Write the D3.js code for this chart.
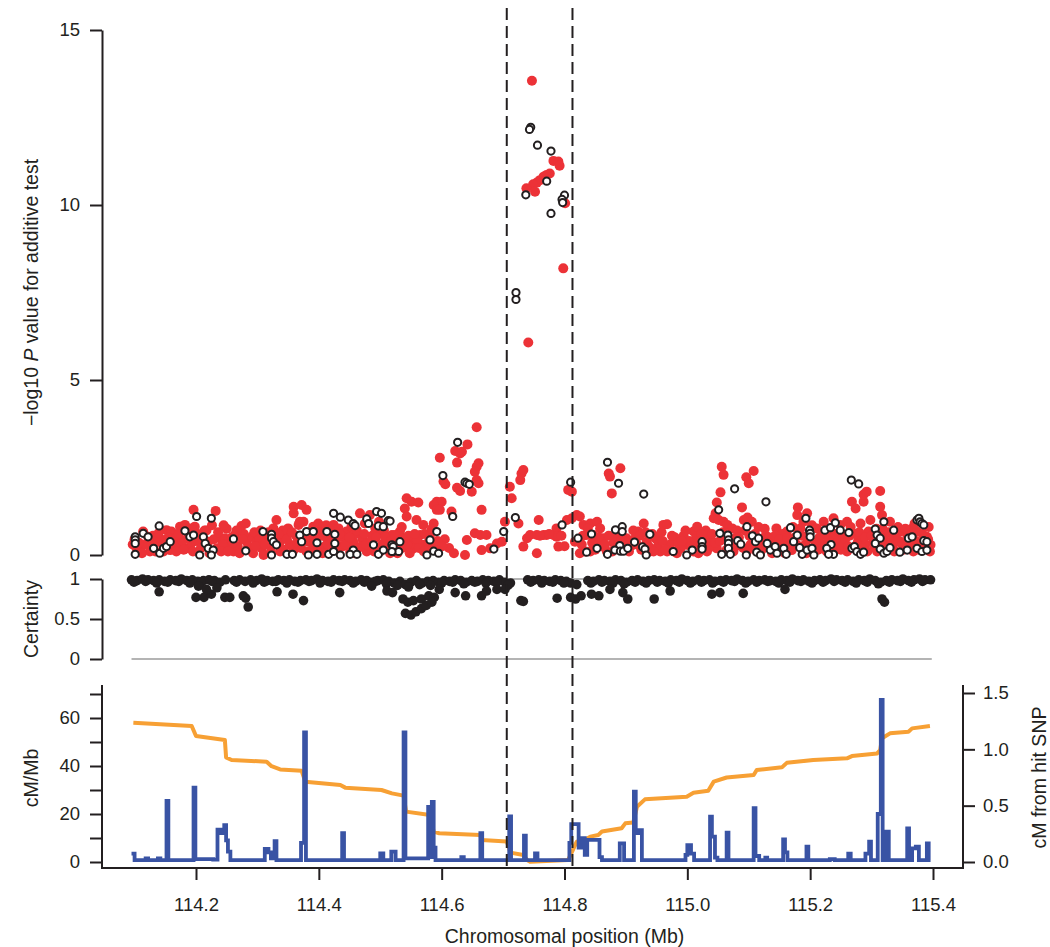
<!DOCTYPE html>
<html>
<head>
<meta charset="utf-8">
<script src="https://cdn.jsdelivr.net/npm/d3@7"></script>
<style>
  body { margin: 0; background: #fff; }
  svg { display: block; font-family: "Liberation Sans", Arial, sans-serif; }
  .axis text { font-size: 18.5px; fill: #231f20; }
  .axis line, .axis path { stroke: #231f20; stroke-width: 2; }
</style>
</head>
<body>
<svg id="chart" width="1050" height="947"></svg>
<script>
// association test, -log10 P; red = filled points, open = black rings
const redSnps = [
  [114.114,0.67],[114.122,0.52],[114.136,0.38],[114.152,0.71],[114.160,0.67],[114.166,0.48],[114.174,0.81],[114.182,0.86],
  [114.190,0.76],[114.198,0.81],[114.196,1.29],[114.206,0.52],[114.212,0.29],[114.220,0.38],[114.232,1.26],[114.234,0.19],
  [114.239,0.48],[114.247,0.48],[114.255,0.29],[114.263,0.57],[114.274,0.83],[114.283,0.38],[114.291,0.52],[114.299,0.38],
  [114.307,0.19],[114.315,0.48],[114.326,0.76],[114.331,1.0],[114.331,0.57],[114.337,0.38],[114.345,0.52],[114.350,0.76],
  [114.359,1.38],[114.359,1.19],[114.372,1.43],[114.380,1.29],[114.367,0.86],[114.375,0.95],[114.383,0.38],[114.391,0.81],
  [114.399,0.90],[114.407,0.81],[114.413,0.48],[114.424,0.86],[114.432,0.76],[114.437,0.24],[114.445,0.67],[114.456,0.38],
  [114.467,1.19],[114.475,0.90],[114.483,1.14],[114.492,0.76],[114.502,0.62],[114.510,0.38],[114.519,0.57],[114.521,0.24],
  [114.185,0.19],[114.158,0.14],[114.147,0.10],[114.125,0.10],[114.109,0.14],[114.261,0.10],[114.310,0.0],[114.337,0.10],
  [114.359,0.14],[114.380,0.10],[114.402,0.19],[114.424,0.14],[114.451,0.10],[114.478,0.10],[114.500,0.10],[114.516,0.05],
  [114.097,0.30],[114.103,0.20],[114.118,0.30],[114.130,0.55],[114.143,0.45],[114.170,0.25],[114.178,0.40],[114.193,0.35],
  [114.203,0.60],[114.217,0.70],[114.226,0.85],[114.243,0.30],[114.250,0.75],[114.258,0.50],[114.268,0.25],[114.278,0.60],
  [114.287,0.15],[114.295,0.65],[114.303,0.45],[114.320,0.30],[114.341,0.70],[114.353,0.30],[114.363,0.55],[114.371,0.20],
  [114.386,0.65],[114.395,0.30],[114.404,0.55],[114.410,0.25],[114.418,0.70],[114.428,0.40],[114.440,0.50],[114.448,0.25],
  [114.453,0.80],[114.460,0.60],[114.464,0.20],[114.471,0.45],[114.480,0.30],[114.487,0.55],[114.495,0.20],[114.498,0.95],
  [114.506,0.70],[114.513,0.25],
  [114.100,0.45],[114.107,0.35],[114.112,0.05],[114.127,0.30],[114.134,0.10],[114.139,0.62],[114.146,0.30],[114.155,0.50],
  [114.163,0.30],[114.168,0.10],[114.172,0.60],[114.180,0.15],[114.187,0.50],[114.195,0.10],[114.200,0.40],[114.208,0.20],
  [114.214,0.70],[114.222,0.05],[114.229,0.45],[114.236,0.65],[114.241,0.10],[114.245,0.85],[114.252,0.10],[114.260,0.35],
  [114.266,0.70],[114.271,0.05],[114.276,0.45],[114.281,0.90],[114.285,0.25],[114.293,0.05],[114.297,0.25],[114.305,0.70],
  [114.312,0.30],[114.318,0.65],[114.322,0.10],[114.329,0.35],[114.335,0.60],[114.343,0.15],[114.348,0.45],[114.356,0.65],
  [114.365,0.35],[114.369,0.95],[114.378,0.55],[114.389,0.15],[114.393,0.50],[114.400,0.65],[114.406,0.05],[114.412,0.85],
  [114.415,0.30],[114.421,0.55],[114.430,0.20],[114.434,0.60],[114.443,0.30],[114.450,0.50],[114.458,0.05],[114.462,0.70],
  [114.469,0.25],[114.474,0.60],[114.477,0.30],[114.485,0.40],[114.490,0.10],[114.493,0.50],[114.503,0.30],[114.508,0.50],
  [114.517,0.40],
  [114.657,3.65],[114.642,3.16],[114.622,2.97],[114.630,2.90],[114.633,2.95],[114.597,2.78],[114.625,2.64],[114.660,2.62],
  [114.657,2.52],[114.654,2.38],[114.603,2.10],[114.606,2.02],[114.657,2.14],[114.660,2.05],[114.625,1.92],[114.630,1.83],
  [114.649,1.81],[114.543,1.62],[114.551,1.52],[114.562,1.50],[114.592,1.52],[114.600,1.52],[114.587,1.43],[114.592,1.29],
  [114.597,1.29],[114.540,1.33],[114.543,1.10],[114.559,1.0],[114.570,0.86],[114.587,0.90],[114.616,1.24],[114.665,1.29],
  [114.532,0.67],[114.524,0.57],[114.538,0.48],[114.549,0.38],[114.557,0.33],[114.565,0.57],[114.568,0.29],[114.576,0.24],
  [114.554,0.19],[114.532,0.24],[114.587,0.24],[114.581,0.57],[114.638,0.0],[114.641,0.43],[114.654,0.62],[114.663,0.57],
  [114.673,0.57],[114.665,0.14],[114.679,0.19],[114.690,0.33],[114.698,0.38],[114.703,0.95],[114.711,1.95],[114.714,1.62],
  [114.728,2.14],[114.730,2.33],[114.733,2.43],[114.725,0.90],[114.758,1.0],[114.739,0.48],[114.744,0.57],[114.755,0.57],
  [114.766,0.57],[114.771,0.57],[114.782,0.57],[114.787,0.76],[114.790,0.24],[114.755,0.05],[114.733,0.24],[114.787,0.52],
  [114.806,1.86],[114.812,1.81],[114.804,1.0],[114.812,1.05],[114.820,1.14],[114.825,1.10],[114.831,0.86],[114.842,0.90],
  [114.853,0.95],[114.836,0.57],[114.847,0.57],[114.858,0.76],[114.863,0.48],[114.853,0.29],[114.842,0.10],[114.825,0.05],
  [114.817,0.38],[114.869,0.10],[114.872,2.33],[114.874,2.24],[114.877,1.76],[114.891,2.48],[114.929,0.90],[114.920,0.67],
  [114.915,0.48],[114.934,0.38],[114.948,0.48],[114.956,0.10],[114.961,0.86],[114.939,0.10],[114.896,0.19],[114.901,0.48],
  [114.527,0.35],[114.535,0.80],[114.546,0.55],[114.560,0.45],[114.573,0.60],[114.578,0.35],[114.584,0.75],[114.590,0.15],
  [114.605,0.45],[114.612,0.20],[114.620,0.05],[114.760,0.55],[114.775,0.60],[114.795,0.55],[114.800,0.25],[114.828,0.30],
  [114.838,0.75],[114.850,0.15],[114.860,0.25],[114.880,0.35],[114.885,0.55],[114.898,0.40],[114.908,0.25],[114.912,0.70],
  [114.925,0.15],[114.943,0.60],[114.952,0.25],
  [114.520,0.15],[114.528,0.05],[114.536,0.20],[114.544,0.30],[114.548,0.05],[114.556,0.60],[114.563,0.20],[114.571,0.10],
  [114.580,0.20],[114.593,0.40],[114.601,0.25],[114.830,0.55],[114.834,0.10],[114.845,0.35],[114.856,0.50],[114.866,0.30],
  [114.872,0.55],[114.878,0.10],[114.887,0.20],[114.893,0.45],[114.905,0.10],[114.918,0.30],[114.923,0.55],[114.932,0.65],
  [114.937,0.25],[114.945,0.10],[114.950,0.45],[114.958,0.65],
  [114.967,0.88],[114.980,0.50],[115.056,2.52],[115.059,2.29],[115.054,1.79],[115.048,1.50],[115.046,1.19],[115.043,1.05],
  [115.051,1.0],[115.059,0.95],[115.065,0.86],[115.073,0.76],[115.089,1.36],[115.092,1.0],[115.098,1.07],[115.105,0.95],
  [115.096,2.22],[115.100,2.05],[115.108,2.40],[115.145,0.76],[115.180,1.36],[115.179,1.14],[115.195,1.19],[115.189,0.95],
  [115.184,0.76],[115.162,0.67],[115.157,0.38],[115.135,0.29],[115.119,0.38],[115.124,0.48],[115.113,0.10],[115.010,0.67],
  [115.016,0.81],[115.027,0.57],[115.037,0.38],[114.999,0.29],[114.989,0.19],[114.978,0.10],[114.967,0.10],[115.032,0.10],
  [115.238,1.05],[115.249,0.86],[115.260,0.95],[115.268,1.52],[115.274,1.33],[115.282,0.90],[115.287,1.52],[115.287,1.73],
  [115.292,1.81],[115.314,1.83],[115.314,1.38],[115.317,1.14],[115.211,0.76],[115.222,0.95],[115.227,0.57],[115.238,0.38],
  [115.255,0.29],[115.271,0.19],[115.295,0.67],[115.303,0.38],[115.314,0.57],[115.330,0.95],[115.339,0.57],[115.347,0.38],
  [115.358,0.57],[115.366,0.76],[115.374,0.67],[115.385,0.38],[115.390,0.52],[115.396,0.29],[115.325,0.19],[115.309,0.10],
  [115.282,0.10],[115.260,0.10],[115.227,0.10],[115.206,0.10],[115.189,0.10],[115.170,0.14],[115.151,0.19],[115.097,0.10],
  [115.086,0.29],[115.078,0.48],[115.070,0.19],[115.010,0.10],[115.048,0.19],
  [114.972,0.30],[114.985,0.35],[114.994,0.55],[115.003,0.40],[115.020,0.25],[115.030,0.70],[115.040,0.60],[115.062,0.50],
  [115.068,0.30],[115.081,0.70],[115.103,0.30],[115.110,0.60],[115.116,0.80],[115.128,0.55],[115.140,0.40],[115.148,0.15],
  [115.155,0.60],[115.166,0.35],[115.175,0.50],[115.192,0.30],[115.198,0.60],[115.203,0.85],[115.215,0.50],[115.219,0.30],
  [115.232,0.75],[115.244,0.50],[115.250,0.15],[115.264,0.55],[115.278,0.40],[115.290,0.30],[115.298,1.00],[115.308,0.75],
  [115.320,0.45],[115.335,0.20],[115.343,0.80],[115.352,0.15],[115.362,0.35],[115.370,0.90],[115.380,0.20],[115.393,0.80],
  [114.960,0.40],[114.964,0.15],[114.975,0.55],[114.983,0.05],[114.991,0.40],[114.997,0.70],[115.006,0.25],[115.013,0.45],
  [115.018,0.05],[115.023,0.60],[115.035,0.20],[115.045,0.35],[115.053,0.40],[115.058,0.65],[115.064,0.15],[115.075,0.10],
  [115.079,0.25],[115.084,0.50],[115.091,0.20],[115.094,0.70],[115.101,0.55],[115.107,0.20],[115.114,0.35],[115.121,0.15],
  [115.126,0.75],[115.133,0.50],[115.138,0.05],[115.143,0.55],[115.150,0.45],[115.159,0.05],[115.163,0.50],[115.168,0.20],
  [115.172,0.80],[115.178,0.30],[115.186,0.55],[115.194,0.05],[115.197,0.45],[115.209,0.35],[115.213,0.15],[115.221,0.65],
  [115.225,0.30],[115.230,0.45],[115.236,0.20],[115.241,0.60],[115.246,0.30],[115.252,0.60],[115.257,0.45],[115.262,0.25],
  [115.266,0.80],[115.273,0.60],[115.276,0.30],[115.280,0.65],[115.285,0.20],[115.289,0.50],[115.293,0.10],[115.300,0.55],
  [115.305,0.20],[115.311,0.30],[115.318,0.75],[115.323,0.30],[115.328,0.65],[115.332,0.40],[115.337,0.10],[115.341,0.40],
  [115.345,0.65],[115.350,0.30],[115.355,0.75],[115.360,0.20],[115.364,0.55],[115.368,0.10],[115.372,0.40],[115.377,0.15],
  [115.383,0.60],[115.388,0.20],[115.392,0.45],[115.395,0.10],
  [114.747,13.55],[114.782,11.26],[114.790,11.24],[114.792,11.12],[114.776,10.90],[114.771,10.86],[114.766,10.81],
  [114.760,10.71],[114.755,10.64],[114.749,10.59],[114.738,10.48],[114.752,10.38],[114.801,10.05],[114.798,8.19],[114.741,6.07]
];

const openSnps = [
  [114.101,0.52],[114.101,0.43],[114.101,0.33],[114.101,0.02],[114.114,0.62],[114.122,0.52],[114.131,0.19],[114.140,0.83],
  [114.141,0.05],[114.147,0.19],[114.152,0.24],[114.158,0.38],[114.182,0.69],[114.190,0.52],[114.196,0.57],[114.201,1.10],
  [114.206,0.0],[114.212,0.52],[114.215,0.33],[114.220,0.19],[114.225,1.05],[114.228,0.14],[114.225,0.0],[114.261,0.46],
  [114.281,0.12],[114.309,0.67],[114.323,0.59],[114.323,0.48],[114.326,0.38],[114.331,0.29],[114.323,0.0],[114.348,0.02],
  [114.357,0.02],[114.369,0.57],[114.372,0.38],[114.380,0.67],[114.391,0.67],[114.397,0.35],[114.383,0.0],[114.397,0.02],
  [114.413,0.67],[114.424,1.19],[114.426,0.59],[114.426,0.33],[114.416,0.02],[114.424,0.10],[114.435,1.08],[114.448,1.0],
  [114.456,0.90],[114.459,0.84],[114.456,0.14],[114.451,0.02],[114.435,0.0],[114.462,0.02],[114.478,1.03],[114.481,0.90],
  [114.494,1.24],[114.502,1.19],[114.497,0.83],[114.505,0.81],[114.513,0.98],[114.489,0.29],[114.497,0.02],[114.505,0.14],
  [114.519,0.29],[114.521,0.10],
  [114.516,0.97],[114.521,0.24],[114.532,0.38],[114.530,0.10],[114.519,0.10],[114.576,0.0],[114.581,0.43],[114.592,0.67],
  [114.587,0.11],[114.595,0.05],[114.602,2.27],[114.626,3.22],[114.618,1.10],[114.638,2.08],[114.641,2.05],[114.645,2.02],
  [114.685,0.17],[114.701,0.67],[114.720,1.07],[114.796,0.86],[114.810,2.08],[114.822,0.48],[114.836,0.08],[114.844,0.60],
  [114.853,0.19],[114.870,2.65],[114.888,2.05],[114.883,0.72],[114.894,0.81],[114.894,0.67],[114.890,0.27],[114.882,0.14],
  [114.891,0.11],[114.896,0.11],[114.903,0.19],[114.914,0.37],[114.929,1.74],[114.927,0.23],[114.931,0.17],[114.933,0.0],
  [114.939,0.59],[114.870,0.02],
  [114.977,0.10],[114.999,0.0],[115.008,0.14],[115.024,0.38],[115.024,0.24],[115.024,0.17],[115.051,1.29],[115.053,0.62],
  [115.056,0.02],[115.066,0.57],[115.067,0.43],[115.067,0.33],[115.067,0.19],[115.070,0.02],[115.077,1.89],[115.082,0.41],
  [115.087,0.31],[115.097,0.81],[115.096,0.0],[115.106,0.55],[115.111,0.38],[115.116,0.48],[115.113,0.08],[115.119,0.0],
  [115.128,1.52],[115.130,0.33],[115.135,0.14],[115.143,0.24],[115.146,0.05],[115.157,0.19],[115.161,0.02],[115.168,0.78],
  [115.173,0.38],[115.179,0.57],[115.183,0.21],[115.187,0.02],[115.193,1.05],[115.199,0.71],[115.200,0.62],[115.200,0.52],
  [115.195,0.14],[115.203,0.19],[115.206,0.0],[115.224,0.71],[115.233,0.78],[115.234,0.30],[115.241,0.92],[115.249,0.71],
  [115.227,0.19],[115.238,0.02],[115.230,0.02],[115.263,0.64],[115.267,2.14],[115.279,2.03],[115.268,0.19],[115.272,0.24],
  [115.276,0.10],[115.282,0.02],[115.287,0.08],[115.306,0.74],[115.309,0.57],[115.314,0.48],[115.306,0.33],[115.314,0.17],
  [115.320,0.05],[115.325,0.10],[115.330,0.21],[115.320,0.95],[115.336,0.71],[115.346,0.08],[115.360,0.48],[115.366,0.52],
  [115.358,0.14],[115.374,1.0],[115.377,1.05],[115.379,0.95],[115.382,0.90],[115.385,0.86],[115.385,0.41],[115.390,0.38],
  [115.374,0.19],[115.382,0.10],[115.390,0.14],
  [114.745,12.22],[114.743,12.16],[114.756,11.71],[114.778,11.54],[114.771,10.68],[114.737,10.29],[114.800,10.28],
  [114.796,10.16],[114.797,10.07],[114.778,9.76],[114.721,7.50],[114.721,7.30]
];

// genotype certainty per SNP
const certainty = [
  [114.095,0.99],[114.104,0.98],[114.113,1.0],[114.122,0.99],[114.131,0.98],[114.140,0.99],[114.149,0.97],[114.158,0.99],
  [114.167,0.98],[114.176,1.0],[114.185,0.98],[114.194,0.99],[114.203,0.97],[114.212,0.98],[114.221,0.99],[114.230,0.98],
  [114.239,0.96],[114.248,0.99],[114.262,0.98],[114.271,0.99],[114.280,0.97],[114.289,0.99],[114.298,0.98],[114.307,1.0],
  [114.316,0.98],[114.325,0.97],[114.334,0.99],[114.343,0.98],[114.352,0.99],[114.361,0.97],[114.370,0.98],[114.379,0.99],
  [114.388,0.98],[114.397,1.0],[114.406,0.98],[114.415,0.97],[114.424,0.99],[114.433,0.98],[114.442,0.99],[114.451,0.98],
  [114.460,0.97],[114.469,0.99],[114.478,0.98],[114.487,0.96],[114.496,0.98],[114.505,0.99],[114.514,0.97],[114.523,0.95],
  [114.532,0.97],[114.541,0.93],[114.550,0.96],[114.559,0.98],[114.568,0.95],[114.577,0.97],[114.586,0.98],[114.595,0.96],
  [114.604,0.98],[114.613,0.97],[114.622,0.99],[114.631,0.98],[114.640,0.96],[114.649,0.98],[114.658,0.97],[114.667,0.99],
  [114.676,0.98],[114.685,0.97],[114.694,0.99],[114.703,0.96],[114.712,0.95],[114.740,0.99],[114.749,0.98],[114.758,0.99],
  [114.767,0.98],[114.776,0.97],[114.785,0.99],[114.794,0.98],[114.803,0.97],[114.810,0.95],[114.820,0.93],[114.838,0.98],
  [114.847,0.97],[114.856,0.99],[114.865,0.98],[114.874,0.97],[114.883,0.99],[114.892,0.98],[114.901,0.96],[114.910,0.98],
  [114.919,0.99],[114.928,0.97],[114.937,0.98],[114.946,0.99],[114.955,0.98],[114.964,0.97],[114.973,0.99],[114.982,0.98],
  [114.991,1.0],[115.000,0.98],[115.009,0.97],[115.018,0.99],[115.027,0.98],[115.036,0.99],[115.045,0.97],[115.054,0.98],
  [115.063,0.99],[115.072,0.98],[115.081,1.0],[115.090,0.98],[115.099,0.97],[115.108,0.99],[115.117,0.98],[115.126,0.99],
  [115.135,0.98],[115.144,0.97],[115.153,0.99],[115.162,0.98],[115.171,1.0],[115.180,0.98],[115.189,0.99],[115.198,0.97],
  [115.207,0.98],[115.216,0.99],[115.225,0.98],[115.234,1.0],[115.243,0.99],[115.252,0.98],[115.261,0.99],[115.270,0.97],
  [115.279,0.99],[115.288,0.98],[115.297,1.0],[115.306,0.98],[115.315,0.96],[115.324,0.98],[115.333,0.99],[115.342,0.98],
  [115.351,1.0],[115.360,0.98],[115.369,0.99],[115.378,1.0],[115.387,0.99],[115.396,0.99],
  [114.099,0.96],[114.118,0.97],[114.136,0.95],[114.154,0.96],[114.172,0.97],[114.190,0.95],[114.208,0.96],[114.226,0.97],
  [114.266,0.96],[114.293,0.95],[114.311,0.96],[114.330,0.97],[114.348,0.95],[114.366,0.96],[114.384,0.97],[114.402,0.95],
  [114.420,0.96],[114.438,0.97],[114.456,0.95],[114.474,0.96],[114.492,0.97],[114.510,0.94],[114.528,0.92],[114.546,0.90],
  [114.564,0.93],[114.582,0.92],[114.600,0.95],[114.618,0.96],[114.636,0.94],[114.654,0.96],[114.672,0.95],[114.690,0.96],
  [114.708,0.92],[114.745,0.96],[114.763,0.95],[114.781,0.96],[114.799,0.95],[114.843,0.95],[114.861,0.96],[114.879,0.95],
  [114.897,0.94],[114.915,0.96],[114.933,0.95],[114.951,0.96],[114.969,0.95],[114.987,0.96],[115.005,0.95],[115.023,0.96],
  [115.041,0.95],[115.059,0.96],[115.077,0.97],[115.095,0.95],[115.113,0.96],[115.131,0.97],[115.149,0.95],[115.167,0.96],
  [115.185,0.97],[115.203,0.95],[115.221,0.96],[115.239,0.97],[115.257,0.96],[115.275,0.95],[115.293,0.96],[115.311,0.94],
  [115.329,0.96],[115.347,0.97],[115.365,0.96],[115.383,0.97],
  [114.140,0.84],[114.200,0.77],[114.213,0.77],[114.225,0.81],[114.247,0.77],[114.255,0.77],[114.281,0.76],[114.285,0.65],
  [114.277,0.79],[114.204,0.91],[114.217,0.87],[114.234,0.89],[114.332,0.84],[114.358,0.81],[114.375,0.73],[114.434,0.83],
  [114.486,0.91],[114.511,0.85],[114.520,0.83],[114.537,0.75],[114.545,0.71],[114.554,0.73],[114.567,0.75],[114.579,0.79],
  [114.588,0.77],[114.541,0.57],[114.550,0.55],[114.558,0.59],[114.567,0.63],[114.575,0.67],[114.584,0.71],[114.596,0.87],
  [114.622,0.83],[114.639,0.79],[114.665,0.79],[114.673,0.85],[114.690,0.87],[114.703,0.87],[114.729,0.73],[114.733,0.72],
  [114.788,0.76],[114.810,0.77],[114.818,0.75],[114.827,0.79],[114.844,0.81],[114.856,0.79],[114.874,0.87],[114.895,0.83],
  [114.903,0.75],[114.946,0.75],[114.972,0.85],[115.040,0.81],[115.053,0.83],[115.091,0.82],[115.159,0.87],[115.317,0.75],
  [115.321,0.71]
];

// recombination rate (cM/Mb), value holds until next position
const recombRate = [
  [114.095,3.5],[114.100,0.8],[114.118,1.5],[114.122,0.8],[114.138,1.5],[114.142,0.8],[114.152,25.5],[114.155,0.8],
  [114.196,31],[114.199,1.2],[114.228,1.0],[114.235,13.5],[114.241,12],[114.246,15.4],[114.249,9],[114.252,4.3],
  [114.256,0.8],[114.312,5.5],[114.318,4],[114.322,1.5],[114.328,8.7],[114.331,0.8],[114.371,8],[114.376,54],
  [114.379,0.8],[114.438,12],[114.441,0.8],[114.500,3.6],[114.505,0.8],[114.518,4.3],[114.525,0.8],[114.538,54],
  [114.541,1.5],[114.578,23],[114.581,2],[114.584,25],[114.587,6],[114.590,0.8],[114.632,2],[114.636,0.8],
  [114.663,12],[114.666,0.8],[114.710,19],[114.713,0.8],[114.734,11],[114.737,0.8],[114.752,3.6],[114.756,0.8],
  [114.808,8],[114.811,15.8],[114.823,6],[114.827,9.9],[114.833,3],[114.837,9.2],[114.857,2],[114.861,0.8],
  [114.890,7.8],[114.897,0.8],[114.913,29.3],[114.916,12],[114.921,13.3],[114.926,0.8],[114.997,3],[115.000,7],
  [115.006,3.5],[115.011,0.8],[115.037,18.9],[115.040,10.6],[115.045,1.8],[115.049,0.8],[115.064,12.2],[115.067,0.8],
  [115.108,22.4],[115.111,2.5],[115.117,0.8],[115.127,1.8],[115.130,0.8],[115.156,9.4],[115.159,4],[115.163,0.8],
  [115.194,6.4],[115.197,0.8],[115.232,1.2],[115.240,0.8],[115.262,3.5],[115.266,0.8],[115.290,3.5],[115.296,8.5],
  [115.299,0.8],[115.310,20],[115.315,67.5],[115.318,0.8],[115.324,12.6],[115.328,0.8],[115.358,14],[115.361,0.8],
  [115.366,5.7],[115.372,6.4],[115.377,0.8],[115.390,7.8],[115.393,0.8],[115.396,0.8]
];

// genetic distance from the hit SNP (cM)
const cmFromHit = [
  [114.098,1.237],[114.193,1.207],[114.200,1.118],[114.247,1.083],[114.249,0.929],[114.258,0.905],[114.315,0.89],
  [114.323,0.85],[114.337,0.822],[114.372,0.81],[114.378,0.713],[114.435,0.683],[114.443,0.66],[114.502,0.639],
  [114.519,0.609],[114.538,0.589],[114.542,0.447],[114.581,0.417],[114.587,0.269],[114.596,0.255],[114.663,0.24],
  [114.665,0.195],[114.706,0.183],[114.712,0.083],[114.733,0.062],[114.739,0.018],[114.744,0.003],[114.806,0.018],
  [114.820,0.18],[114.834,0.2],[114.842,0.225],[114.855,0.24],[114.861,0.27],[114.893,0.3],[114.899,0.343],
  [114.912,0.35],[114.918,0.49],[114.931,0.556],[114.999,0.58],[115.010,0.615],[115.034,0.633],[115.043,0.713],
  [115.064,0.75],[115.108,0.772],[115.113,0.817],[115.154,0.84],[115.162,0.88],[115.205,0.905],[115.260,0.92],
  [115.268,0.94],[115.309,0.964],[115.314,0.994],[115.317,1.098],[115.330,1.142],[115.360,1.157],[115.366,1.186],
  [115.395,1.207]
];

const hitRegion = [114.706, 114.813];
const xTicks = [114.2, 114.4, 114.6, 114.8, 115.0, 115.2, 115.4];
const pTicks = [0, 5, 10, 15];
const certTicks = [0, 0.5, 1];
const rateTicks = [0, 10, 20, 30, 40, 50, 60, 70];
const cmTicks = [0, 0.5, 1.0, 1.5];

const red = "#ec3237", ink = "#231f20", blue = "#3953a4", orange = "#f7a034";
const titleSize = 19.5;

const svg = d3.select("#chart");

const x = d3.scaleLinear().domain([114.2, 115.4]).range([196, 933]);
const yP = d3.scaleLinear().domain([0, 15]).range([555, 30]);
const yC = d3.scaleLinear().domain([0, 1]).range([659, 579]);
const yR = d3.scaleLinear().domain([0, 70]).range([862, 694]);
const yM = d3.scaleLinear().domain([0, 1.5]).range([862, 693]);

// --- top panel
svg.append("g").attr("class", "axis").attr("transform", "translate(102,0)")
  .call(d3.axisLeft(yP).tickValues(pTicks).tickSize(12).tickPadding(10).tickSizeOuter(0));

svg.append("g").selectAll("circle").data(redSnps).join("circle")
  .attr("cx", d => x(d[0])).attr("cy", d => yP(d[1])).attr("r", 5)
  .attr("fill", red);

svg.append("g").selectAll("circle").data(openSnps).join("circle")
  .attr("cx", d => x(d[0])).attr("cy", d => yP(d[1])).attr("r", 3.6)
  .attr("fill", "#fff").attr("stroke", ink).attr("stroke-width", 2);

const ylab = svg.append("text")
  .attr("transform", `translate(38,${(yP(0) + yP(15)) / 2}) rotate(-90)`)
  .attr("text-anchor", "middle").attr("font-size", titleSize).attr("fill", ink);
ylab.append("tspan").text("\u2212log10 ");
ylab.append("tspan").attr("font-style", "italic").text("P");
ylab.append("tspan").text(" value for additive test");

// --- certainty panel
svg.append("g").attr("class", "axis").attr("transform", "translate(102,0)")
  .call(d3.axisLeft(yC).tickValues(certTicks).tickFormat(d => d).tickSize(12).tickPadding(10).tickSizeOuter(0));

svg.append("g").selectAll("line").data([0, 1]).join("line")
  .attr("x1", x(114.095)).attr("x2", x(115.398))
  .attr("y1", d => yC(d)).attr("y2", d => yC(d))
  .attr("stroke", "#b4b4b4").attr("stroke-width", 2);

svg.append("g").selectAll("circle").data(certainty).join("circle")
  .attr("cx", d => x(d[0])).attr("cy", d => yC(d[1])).attr("r", 4.8)
  .attr("fill", ink);

svg.append("text")
  .attr("transform", `translate(38,${(yC(0) + yC(1)) / 2}) rotate(-90)`)
  .attr("text-anchor", "middle").attr("font-size", titleSize).attr("fill", ink)
  .text("Certainty");

// --- recombination panel
const boxTop = 685, boxBottom = 868, boxLeft = 102, boxRight = 963;
svg.append("path")
  .attr("d", `M${boxLeft},${boxTop}V${boxBottom}H${boxRight}V${boxTop}`)
  .attr("fill", "none").attr("stroke", ink).attr("stroke-width", 2);

svg.append("g").attr("class", "axis").attr("transform", `translate(${boxLeft},0)`)
  .call(d3.axisLeft(yR).tickValues(rateTicks).tickFormat(d => d % 20 === 0 && d < 70 ? d : "")
    .tickSize(12).tickPadding(10))
  .call(g => g.select(".domain").remove());

svg.append("g").attr("class", "axis").attr("transform", `translate(${boxRight},0)`)
  .call(d3.axisRight(yM).tickValues(cmTicks).tickFormat(d3.format(".1f")).tickSize(12).tickPadding(8))
  .call(g => g.select(".domain").remove());

svg.append("g").attr("class", "axis").attr("transform", `translate(0,${boxBottom})`)
  .call(d3.axisBottom(x).tickValues(xTicks).tickFormat(d3.format(".1f")).tickSize(12).tickPadding(18))
  .call(g => g.select(".domain").remove());

svg.append("path").datum(cmFromHit)
  .attr("fill", "none").attr("stroke", orange).attr("stroke-width", 4)
  .attr("stroke-linejoin", "round")
  .attr("d", d3.line().x(d => x(d[0])).y(d => yM(d[1])));

svg.append("path").datum(recombRate)
  .attr("fill", "none").attr("stroke", blue).attr("stroke-width", 3.8)
  .attr("d", d3.line().curve(d3.curveStepAfter).x(d => x(d[0])).y(d => yR(d[1])));

svg.append("text")
  .attr("transform", `translate(38,${(yR(0) + yR(70)) / 2}) rotate(-90)`)
  .attr("text-anchor", "middle").attr("font-size", titleSize).attr("fill", ink)
  .text("cM/Mb");

svg.append("text")
  .attr("transform", `translate(1046,${(yM(0) + yM(1.5)) / 2}) rotate(-90)`)
  .attr("text-anchor", "middle").attr("font-size", titleSize).attr("fill", ink)
  .text("cM from hit SNP");

svg.append("text")
  .attr("x", (x(114.2) + x(115.4)) / 2).attr("y", 943)
  .attr("text-anchor", "middle").attr("font-size", titleSize).attr("fill", ink)
  .text("Chromosomal position (Mb)");

// hit region boundaries through all panels
svg.append("g").selectAll("line").data(hitRegion).join("line")
  .attr("x1", d => x(d)).attr("x2", d => x(d))
  .attr("y1", 8).attr("y2", boxBottom)
  .attr("stroke", ink).attr("stroke-width", 2).attr("stroke-dasharray", "12,6");
</script>
</body>
</html>
